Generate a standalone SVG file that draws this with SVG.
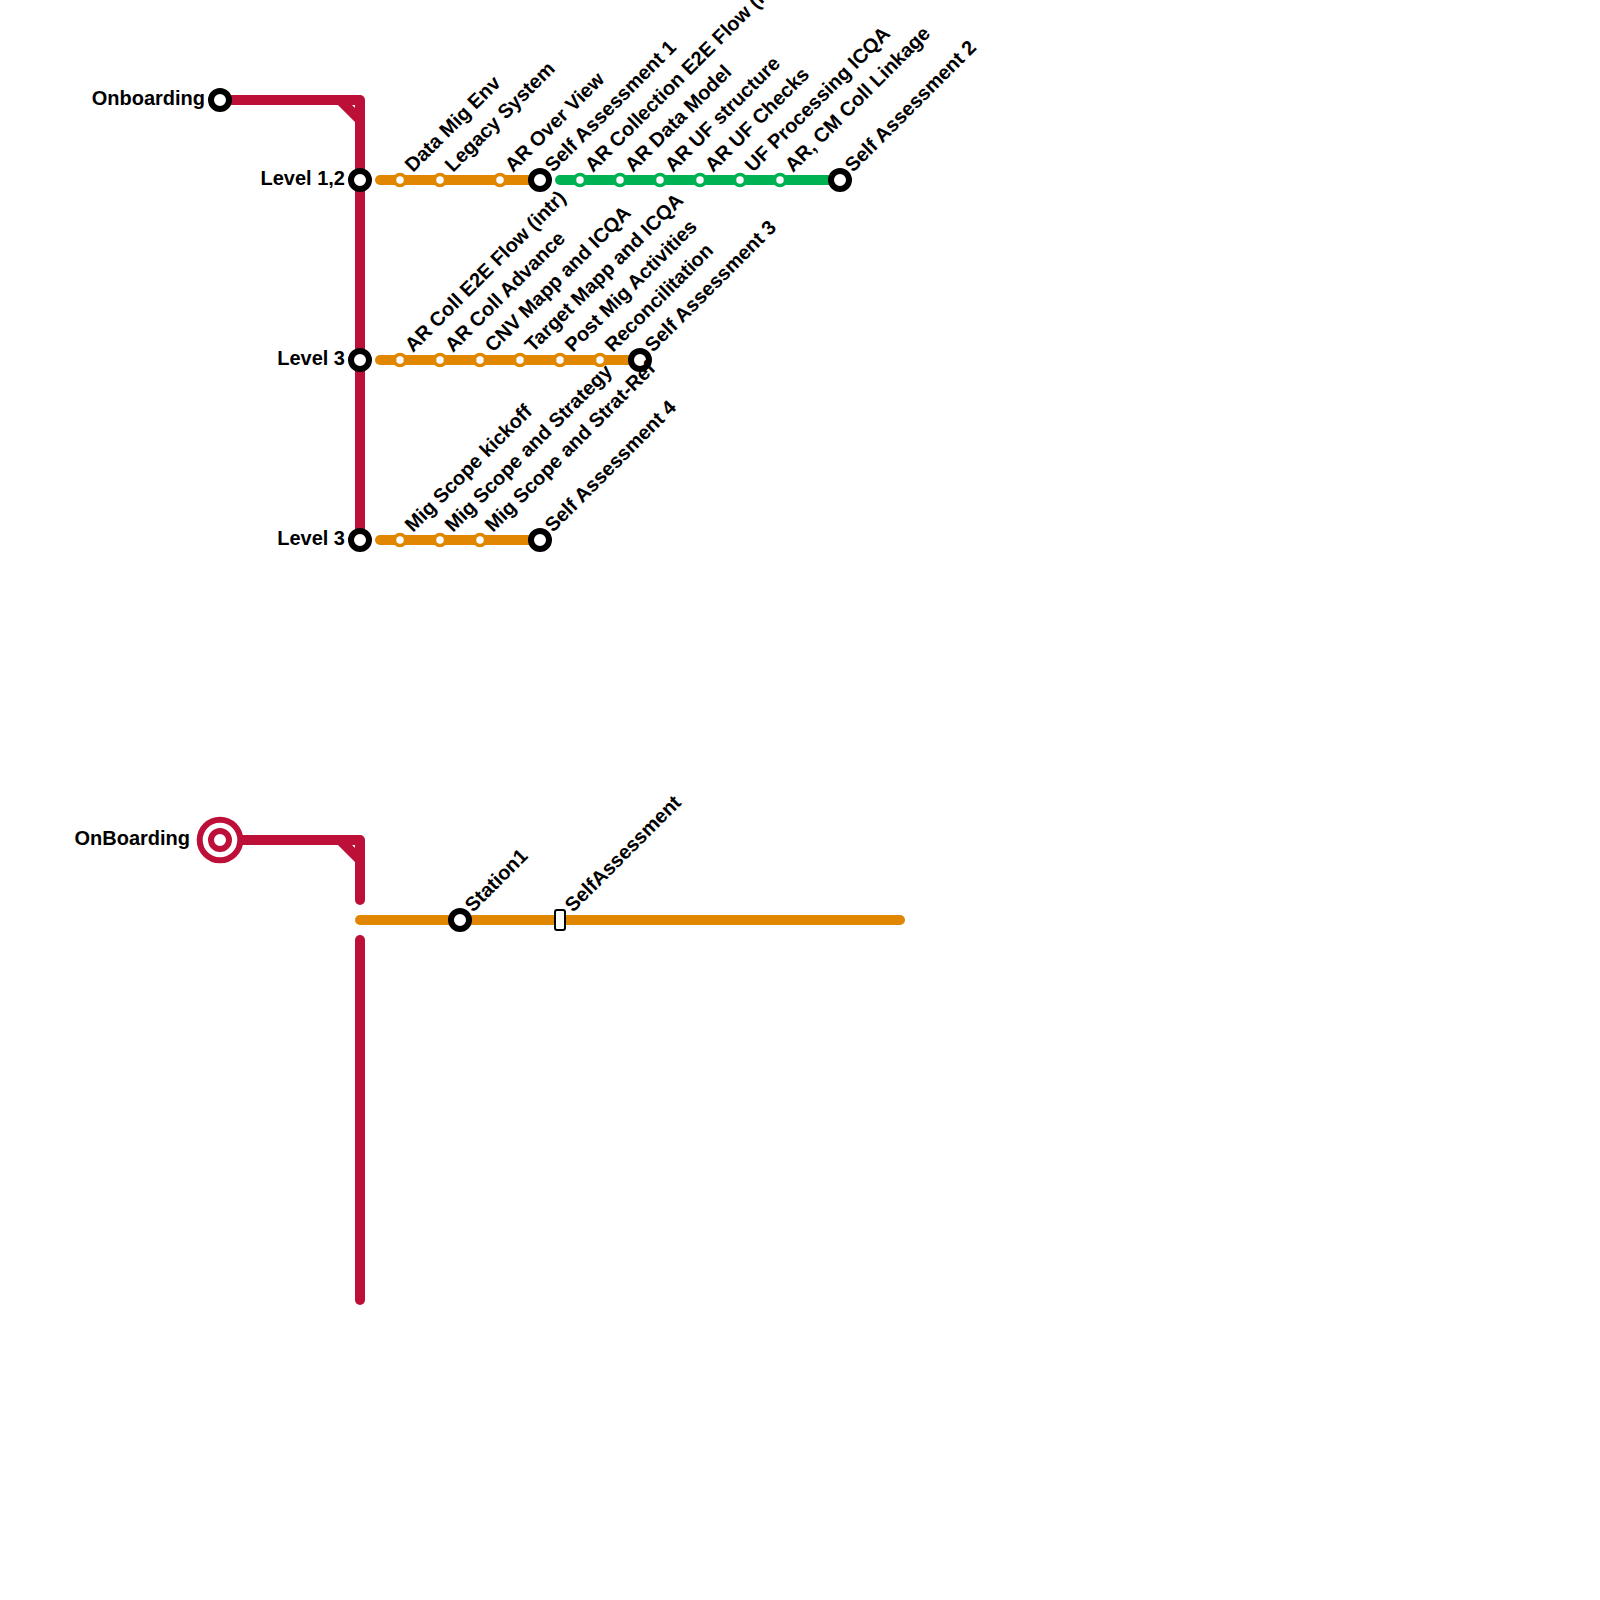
<svg xmlns="http://www.w3.org/2000/svg" width="1600" height="1600" viewBox="0 0 1600 1600">
<style>
.l{fill:none;stroke-width:10;stroke-linecap:round;stroke-linejoin:round}
.r{stroke:#bd1038}.o{stroke:#e08600}.g{stroke:#00b251}
.st{fill:#fff;stroke:#000;stroke-width:6}
.so{fill:#fff;stroke:#e08600;stroke-width:3.5}
.sg{fill:#fff;stroke:#00b251;stroke-width:3.5}
text{font-family:"Liberation Sans",Arial,sans-serif;font-weight:700;font-size:20px;fill:#000}
.e{text-anchor:end}
</style>
<defs>
<circle id="big" r="9" class="st"/>
<circle id="po" r="5.5" class="so"/>
<circle id="pg" r="5.5" class="sg"/>
</defs>
<g id="connectors">
<path class="l r" d="M220 100H360V540M340 100L360 120"/>
<path class="l r" d="M220 840H360V900M340 840L360 860"/>
<path class="l r" d="M360 940V1300"/>
<path class="l o" d="M380 180H540"/>
<path class="l g" d="M560 180H840"/>
<path class="l o" d="M380 360H640"/>
<path class="l o" d="M380 540H540"/>
<path class="l o" d="M360 920H900"/>
</g>
<g id="n-onboarding"><use href="#big" x="220" y="100"/><text class="e" x="205" y="105">Onboarding</text></g>
<g id="n-level12"><use href="#big" x="360" y="180"/><text class="e" x="345" y="185">Level 1,2</text></g>
<g id="n-level3a"><use href="#big" x="360" y="360"/><text class="e" x="345" y="365">Level 3</text></g>
<g id="n-level3b"><use href="#big" x="360" y="540"/><text class="e" x="345" y="545">Level 3</text></g>
<g id="n-r1-1"><use href="#po" x="400" y="180"/><text transform="translate(413 173) rotate(-45)">Data Mig Env</text></g>
<g id="n-r1-2"><use href="#po" x="440" y="180"/><text transform="translate(453 173) rotate(-45)">Legacy System</text></g>
<g id="n-r1-3"><use href="#po" x="500" y="180"/><text transform="translate(513 173) rotate(-45)">AR Over View</text></g>
<g id="n-r1-4"><use href="#big" x="540" y="180"/><text transform="translate(553 173) rotate(-45)">Self Assessment 1</text></g>
<g id="n-r1-5"><use href="#pg" x="580" y="180"/><text transform="translate(593 173) rotate(-45)">AR Collection E2E Flow (intr)</text></g>
<g id="n-r1-6"><use href="#pg" x="620" y="180"/><text transform="translate(633 173) rotate(-45)">AR Data Model</text></g>
<g id="n-r1-7"><use href="#pg" x="660" y="180"/><text transform="translate(673 173) rotate(-45)">AR UF structure</text></g>
<g id="n-r1-8"><use href="#pg" x="700" y="180"/><text transform="translate(713 173) rotate(-45)">AR UF Checks</text></g>
<g id="n-r1-9"><use href="#pg" x="740" y="180"/><text transform="translate(753 173) rotate(-45)">UF Processing ICQA</text></g>
<g id="n-r1-10"><use href="#pg" x="780" y="180"/><text transform="translate(793 173) rotate(-45)">AR, CM Coll Linkage</text></g>
<g id="n-r1-11"><use href="#big" x="840" y="180"/><text transform="translate(853 173) rotate(-45)">Self Assessment 2</text></g>
<g id="n-r2-1"><use href="#po" x="400" y="360"/><text transform="translate(413 353) rotate(-45)">AR Coll E2E Flow (intr)</text></g>
<g id="n-r2-2"><use href="#po" x="440" y="360"/><text transform="translate(453 353) rotate(-45)">AR Coll Advance</text></g>
<g id="n-r2-3"><use href="#po" x="480" y="360"/><text transform="translate(493 353) rotate(-45)">CNV Mapp and ICQA</text></g>
<g id="n-r2-4"><use href="#po" x="520" y="360"/><text transform="translate(533 353) rotate(-45)">Target Mapp and ICQA</text></g>
<g id="n-r2-5"><use href="#po" x="560" y="360"/><text transform="translate(573 353) rotate(-45)">Post Mig Activities</text></g>
<g id="n-r2-6"><use href="#po" x="600" y="360"/><text transform="translate(613 353) rotate(-45)">Reconcilitation</text></g>
<g id="n-r2-7"><use href="#big" x="640" y="360"/><text transform="translate(653 353) rotate(-45)">Self Assessment 3</text></g>
<g id="n-r3-1"><use href="#po" x="400" y="540"/><text transform="translate(413 533) rotate(-45)">Mig Scope kickoff</text></g>
<g id="n-r3-2"><use href="#po" x="440" y="540"/><text transform="translate(453 533) rotate(-45)">Mig Scope and Strategy</text></g>
<g id="n-r3-3"><use href="#po" x="480" y="540"/><text transform="translate(493 533) rotate(-45)">Mig Scope and Strat-Ref</text></g>
<g id="n-r3-4"><use href="#big" x="540" y="540"/><text transform="translate(553 533) rotate(-45)">Self Assessment 4</text></g>
<g id="n-onboarding2"><circle cx="220" cy="840" r="20.3" fill="#fff" stroke="#bd1038" stroke-width="6"/><circle cx="220" cy="840" r="9" fill="#fff" stroke="#bd1038" stroke-width="6"/><text class="e" x="190" y="845">OnBoarding</text></g>
<g id="n-station1"><use href="#big" x="460" y="920"/><text transform="translate(473 913) rotate(-45)">Station1</text></g>
<g id="n-selfassessment"><rect x="555" y="910" width="10" height="20" rx="2" fill="#fff" stroke="#000" stroke-width="2"/><text transform="translate(573 913) rotate(-45)">SelfAssessment</text></g>
</svg>
